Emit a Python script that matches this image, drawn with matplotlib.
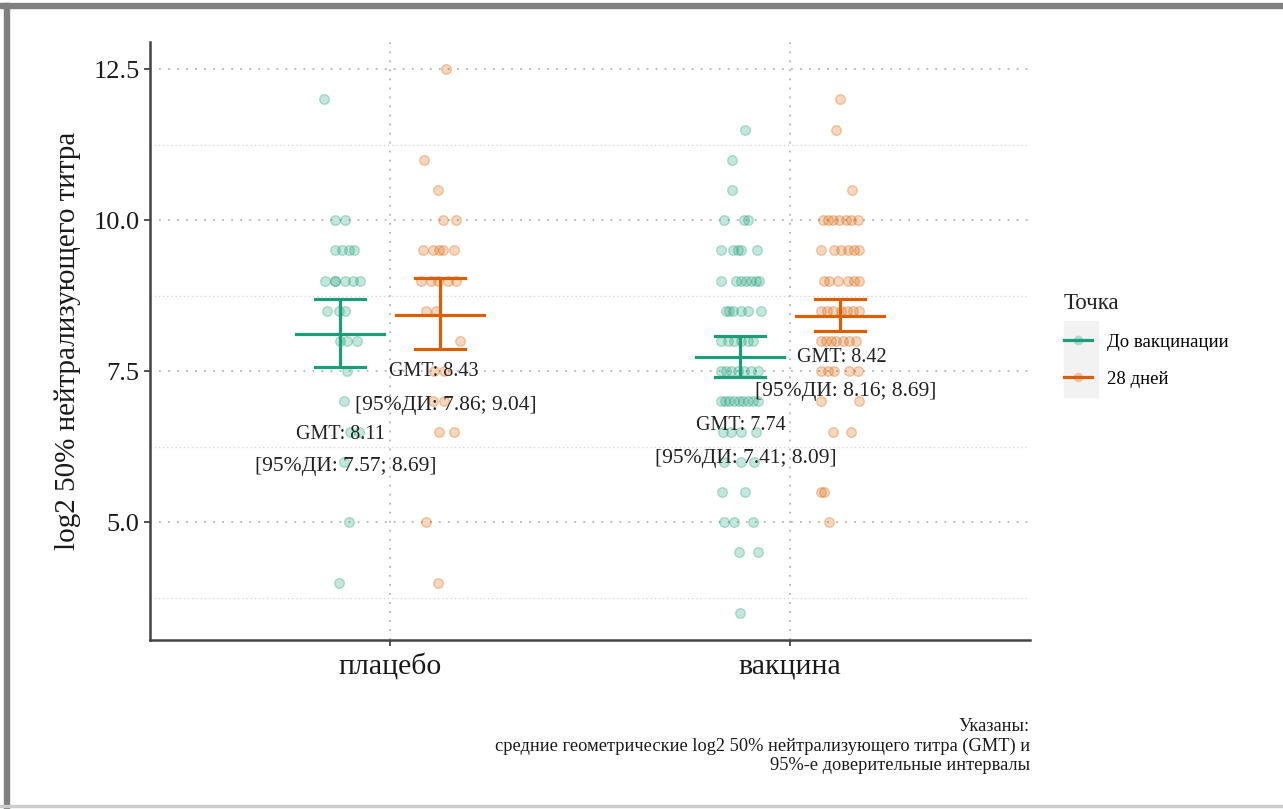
import numpy as np
import matplotlib
matplotlib.use("Agg")
import matplotlib.pyplot as plt
from matplotlib.lines import Line2D
from matplotlib.patches import Rectangle
from matplotlib.colors import to_rgba
from matplotlib.legend_handler import HandlerTuple

plt.rcParams['font.family'] = ['Liberation Serif', 'DejaVu Serif']

# data: groups, summary stats
groups = ["плацебо", "вакцина"]
series = ["До вакцинации", "28 дней"]
colors = ["#1b9e77", "#d95f02"]

gmt = {("плацебо", 0): 8.11, ("плацебо", 1): 8.43,
       ("вакцина", 0): 7.74, ("вакцина", 1): 8.42}
ci_low = {("плацебо", 0): 7.57, ("плацебо", 1): 7.86,
          ("вакцина", 0): 7.41, ("вакцина", 1): 8.16}
ci_high = {("плацебо", 0): 8.69, ("плацебо", 1): 9.04,
           ("вакцина", 0): 8.09, ("вакцина", 1): 8.69}

# individual titres (value, jitter in 1/400 units)
placebo_before = [(12.0, -16), (10.0, -5), (10.0, 5), (9.5, -5), (9.5, 2), (9.5, 9), (9.5, 14),
                  (9.0, -15), (9.0, -5), (9.0, -5), (9.0, 5), (9.0, 13), (9.0, 20),
                  (8.5, -13), (8.5, -1), (8.5, 5), (8.0, 0), (8.0, 7), (8.0, 17),
                  (7.5, 7), (7.0, 4), (6.5, 10), (6.5, 19), (6.0, 4), (5.0, 9), (4.0, -1)]
placebo_after = [(12.5, 6), (11.0, -16), (10.5, -2), (10.0, 3), (10.0, 16),
                 (9.5, -17), (9.5, -7), (9.5, -1), (9.5, 3), (9.5, 14),
                 (9.0, -19), (9.0, -9), (9.0, -2), (9.0, 8), (9.0, 16),
                 (8.5, -14), (8.5, -4), (8.0, 20), (7.5, -6), (7.5, 4), (7.0, -7), (7.0, 4),
                 (6.5, -1), (6.5, 14), (5.0, -14), (4.0, -2)]
vaccine_before = [(11.5, 5), (11.0, -8), (10.5, -8), (10.0, -16), (10.0, 4), (10.0, 8),
                  (9.5, -19), (9.5, -7), (9.5, -2), (9.5, 1), (9.5, 17),
                  (9.0, -19), (9.0, -4), (9.0, 1), (9.0, 6), (9.0, 11), (9.0, 16), (9.0, 19),
                  (8.5, -14), (8.5, -11), (8.5, -7), (8.5, 1), (8.5, 8), (8.5, 21),
                  (8.0, -19), (8.0, -12), (8.0, -6), (8.0, 1), (8.0, 8), (8.0, 13),
                  (7.5, -19), (7.5, -14), (7.5, -9), (7.5, -2), (7.5, 4), (7.5, 11), (7.5, 18),
                  (7.0, -19), (7.0, -15), (7.0, -11), (7.0, -6), (7.0, -1), (7.0, 3), (7.0, 8),
                  (7.0, 13), (7.0, 18),
                  (6.5, -17), (6.5, -9), (6.5, 1), (6.5, 16), (6.0, -16), (6.0, 1), (6.0, 14),
                  (5.5, -18), (5.5, 5), (5.0, -16), (5.0, -6), (5.0, 13), (4.5, -1), (4.5, 18),
                  (3.5, 0)]
vaccine_after = [(12.0, 0), (11.5, -4), (10.5, 12),
                 (10.0, -17), (10.0, -12), (10.0, -7), (10.0, -1), (10.0, 6), (10.0, 11), (10.0, 18),
                 (9.5, -19), (9.5, -6), (9.5, 1), (9.5, 8), (9.5, 14), (9.5, 19),
                 (9.0, -16), (9.0, -11), (9.0, -2), (9.0, 8), (9.0, 14), (9.0, 19),
                 (8.5, -19), (8.5, -13), (8.5, -7), (8.5, 1), (8.5, 7), (8.5, 13), (8.5, 19),
                 (8.0, -19), (8.0, -14), (8.0, -9), (8.0, -4), (8.0, 3), (8.0, 9), (8.0, 16),
                 (7.5, -19), (7.5, -12), (7.5, -6), (7.5, 9), (7.5, 18),
                 (7.0, -19), (7.0, 19), (6.5, -7), (6.5, 11), (5.5, -19), (5.5, -16), (5.0, -11)]

points = {("плацебо", 0): placebo_before, ("плацебо", 1): placebo_after,
          ("вакцина", 0): vaccine_before, ("вакцина", 1): vaccine_after}

# label positions (x, y in data units) for the GMT / CI texts
label_pos = {("плацебо", 0): [(0.877, 6.45), (0.89, 5.92)],
             ("плацебо", 1): [(1.11, 7.49), (1.14, 6.93)],
             ("вакцина", 0): [(1.878, 6.60), (1.89, 6.05)],
             ("вакцина", 1): [(2.13, 7.72), (2.14, 7.16)]}

dodge = [-0.125, 0.125]

fig = plt.figure(figsize=(12.83, 8.09), dpi=100)
ax = fig.add_axes([150 / 1283, (809 - 640) / 809, 880 / 1283, 598 / 809])

for gi, g in enumerate(groups):
    for si in range(2):
        cx = gi + 1 + dodge[si]
        pts = points[(g, si)]
        vals = np.array([p[0] for p in pts])
        xs = cx + np.array([p[1] for p in pts]) / 400.0
        ax.scatter(xs, vals, s=48, facecolor=to_rgba(colors[si], 0.25),
                   edgecolors=to_rgba(colors[si], 0.3), linewidths=1.0, zorder=2)

for gi, g in enumerate(groups):
    for si in range(2):
        cx = gi + 1 + dodge[si]
        c = colors[si]
        lo, hi, m = ci_low[(g, si)], ci_high[(g, si)], gmt[(g, si)]
        ax.plot([cx, cx], [lo, hi], color=c, lw=2.3, zorder=3, solid_capstyle='butt')
        ax.plot([cx - 0.0625, cx + 0.0625], [lo, lo], color=c, lw=2.3, zorder=3)
        ax.plot([cx - 0.0625, cx + 0.0625], [hi, hi], color=c, lw=2.3, zorder=3)
        ax.plot([cx - 0.11, cx + 0.11], [m, m], color=c, lw=2.3, zorder=3)
        (x1, y1), (x2, y2) = label_pos[(g, si)]
        ax.text(x1, y1, "GMT: %.2f" % m, ha='center', va='center', fontsize=14.5, color='#222222', zorder=4)
        ax.text(x2, y2, "[95%%ДИ: %.2f; %.2f]" % (lo, hi), ha='center', va='center',
                fontsize=15.5, color='#222222', zorder=4)

ax.set_xlim(0.4, 2.6)
ax.set_ylim(3.05, 12.95)
ax.set_xticks([1, 2])
ax.set_xticklabels(groups, fontsize=21.5)
ax.set_yticks([5.0, 7.5, 10.0, 12.5])
ax.set_yticklabels(["5.0", "7.5", "10.0", "12.5"], fontsize=19)
ax.set_yticks([3.75, 6.25, 8.75, 11.25], minor=True)
ax.tick_params(axis='both', colors='#333333', length=4, width=1.2, labelcolor='#1a1a1a')
ax.tick_params(axis='x', pad=6)
ax.tick_params(axis='y', which='minor', length=0)
ax.set_ylabel("log2 50% нейтрализующего титра", fontsize=21, color='#1a1a1a', labelpad=9)

ax.grid(True, which='major', axis='both', linestyle=(0, (1, 4)), color='#b5b5b5', lw=1.3)
ax.grid(True, which='minor', axis='y', linestyle=(0, (1, 2)), color='#d8d8d8', lw=1.0)
ax.set_axisbelow(True)
for s in ['top', 'right']:
    ax.spines[s].set_visible(False)
for s in ['left', 'bottom']:
    ax.spines[s].set_color('#444444')
    ax.spines[s].set_linewidth(1.8)

# legend
fig.patches.append(Rectangle((1064 / 1283, 1 - 397 / 809), 34 / 1283, 76 / 809,
                             transform=fig.transFigure, color='#f2f2f2', zorder=0))
handles = []
for i in range(2):
    pt = Line2D([0], [0], linestyle='none', marker='o', markersize=7,
                markerfacecolor=to_rgba(colors[i], 0.3), markeredgecolor='none')
    ln = Line2D([0], [0], color=colors[i], lw=2.3)
    handles.append((pt, ln))
leg = fig.legend(handles, series, loc='upper left', bbox_to_anchor=(1047 / 1283, 1 - 276 / 809),
                 frameon=False, title="Точка", fontsize=13.5, title_fontsize=16.5,
                 handlelength=1.5, labelspacing=1.05, alignment='left',
                 handler_map={tuple: HandlerTuple(ndivide=1)})
leg.get_title().set_color('#222222')

# caption
fig.text(1030 / 1283, 1 - 746 / 809,
         "Указаны:\nсредние геометрические log2 50% нейтрализующего титра (GMT) и\n95%-е доверительные интервалы",
         ha='right', va='center', fontsize=13.2, color='#1a1a1a', linespacing=1.17)

# frame
fig.patches.append(Rectangle((0, 1 - 8 / 809), 1, 5 / 809, transform=fig.transFigure,
                             color='#808080', zorder=5))
fig.patches.append(Rectangle((4 / 1283, 0), 5 / 1283, 1 - 3 / 809, transform=fig.transFigure,
                             color='#808080', zorder=5))
fig.patches.append(Rectangle((0, 2 / 809), 1, 2 / 809, transform=fig.transFigure,
                             color='#cccccc', zorder=5))

fig.savefig("out.png", dpi=100)
